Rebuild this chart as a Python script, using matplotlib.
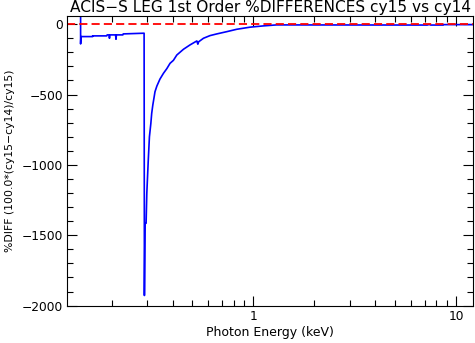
import matplotlib
matplotlib.use("Agg")
import matplotlib.pyplot as plt
from matplotlib.ticker import FixedLocator, LogLocator, NullFormatter, MultipleLocator

# photon energy (keV) and percent difference between cy15 and cy14
energy = [0.1405, 0.1405, 0.141, 0.161, 0.161, 0.189, 0.190, 0.194, 0.195, 0.196,
          0.209, 0.210, 0.211, 0.227, 0.228, 0.289, 0.290, 0.291, 0.292, 0.2956,
          0.298, 0.301, 0.303, 0.307, 0.312, 0.315, 0.319, 0.324, 0.327, 0.334,
          0.346, 0.360, 0.374, 0.388, 0.403, 0.419, 0.452, 0.487, 0.526, 0.532,
          0.537, 0.567, 0.611, 0.660, 0.739, 0.828, 0.963, 1.12, 1.30, 7.2,
          7.35, 7.5, 8.6, 8.6, 12.5]
pdiff = [60, -140, -88, -88, -83, -83, -76, -76, -100, -76,
         -76, -107, -76, -76, -69, -64, -1928, -1679, -1415, -1415,
         -1202, -1060, -966, -800, -705, -634, -575, -516, -480, -440,
         -390, -349, -316, -278, -257, -219, -178, -147, -119, -142,
         -125, -100, -81, -69, -53, -36, -21, -12, -5, -6,
         -2, -6, -6, -3, -3]

xticks = [1, 10]
xticklabels = ["1", "10"]
yticks = [0, -500, -1000, -1500, -2000]

fig = plt.figure(figsize=(4.75, 3.43), dpi=100)
ax = fig.add_axes([0.142, 0.109, 0.853, 0.843])

ax.plot(energy, pdiff, color="#0000ff", lw=1.2)
ax.axhline(0, color="#ff0000", lw=1.3, dashes=(4.5, 2.3))

ax.set_xscale("log")
ax.set_xlim(0.121, 12.06)
ax.set_ylim(-2000, 55)

ax.xaxis.set_major_locator(FixedLocator(xticks))
ax.set_xticklabels(xticklabels)
ax.xaxis.set_minor_locator(LogLocator(base=10, subs=range(2, 10)))
ax.xaxis.set_minor_formatter(NullFormatter())
ax.set_yticks(yticks)
ax.yaxis.set_minor_locator(MultipleLocator(100))

ax.tick_params(which="both", direction="in", top=True, right=True,
               labelsize=8.8, width=0.8, pad=3)
ax.tick_params(which="major", length=7)
ax.tick_params(which="minor", length=4)
for s in ax.spines.values():
    s.set_linewidth(0.8)

ax.set_xlabel("Photon Energy (keV)", fontsize=9, labelpad=2)
ax.set_ylabel("%DIFF (100.0*(cy15\u2212cy14)/cy15)", fontsize=7.8, labelpad=5)
ax.set_title("ACIS\u2212S LEG 1st Order %DIFFERENCES cy15 vs cy14", fontsize=11.1, pad=3)

fig.savefig("out.png", dpi=100)
